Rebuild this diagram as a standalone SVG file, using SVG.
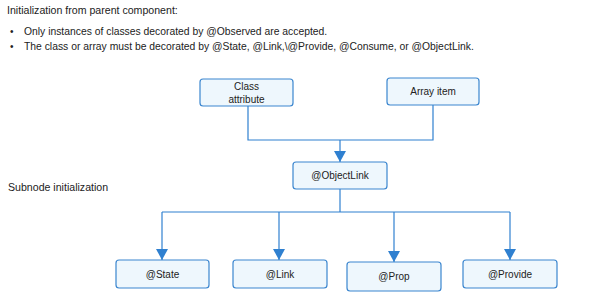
<svg xmlns="http://www.w3.org/2000/svg" width="589" height="296" viewBox="0 0 589 296">
<style>
text{font-family:"Liberation Sans",Arial,sans-serif;font-size:10px;fill:#222}
.h{font-size:10.6px}
.b{font-size:10.35px}
.c{text-anchor:middle}
.box{fill:#eef7fd;stroke:#3b86cf;stroke-width:1.2}
.ln{fill:none;stroke:#2f80d0;stroke-width:1.2}
</style>
<defs>
<marker id="ah" markerWidth="12" markerHeight="12" refX="11" refY="6" orient="auto" markerUnits="userSpaceOnUse">
<path d="M0,0 L11,6 L0,12 Z" fill="#2f80d0"/>
</marker>
</defs>
<rect width="589" height="296" fill="#fff"/>
<text class="h" x="7" y="14">Initialization from parent component:</text>
<text x="10" y="35">•</text>
<text class="b" x="24" y="35">Only instances of classes decorated by @Observed are accepted.</text>
<text x="10" y="50">•</text>
<text class="b" x="24" y="50">The class or array must be decorated by @State, @Link,\@Provide, @Consume, or @ObjectLink.</text>
<text class="h" x="8" y="191">Subnode initialization</text>
<g id="connectors">
<polyline class="ln" points="248,106 248,140 433,140 433,105"/>
<line class="ln" x1="340" y1="140" x2="340" y2="162" marker-end="url(#ah)"/>
<line class="ln" x1="340" y1="189" x2="340" y2="212"/>
<polyline class="ln" points="162,212 510,212"/>
<line class="ln" x1="162" y1="212" x2="162" y2="260" marker-end="url(#ah)"/>
<line class="ln" x1="279" y1="212" x2="279" y2="260" marker-end="url(#ah)"/>
<line class="ln" x1="394" y1="212" x2="394" y2="262" marker-end="url(#ah)"/>
<line class="ln" x1="510" y1="212" x2="510" y2="260" marker-end="url(#ah)"/>
</g>
<g id="class-attribute"><rect class="box" x="200" y="79" width="93" height="27" rx="3"/><text class="c" x="246.5" y="90">Class</text><text class="c" x="246.5" y="103">attribute</text></g>
<g id="array-item"><rect class="box" x="387" y="78" width="92" height="27" rx="3"/><text class="c" x="433" y="95">Array item</text></g>
<g id="objectlink"><rect class="box" x="293" y="162" width="94" height="27" rx="3"/><text class="c" x="340" y="179">@ObjectLink</text></g>
<g id="state"><rect class="box" x="116" y="260" width="93" height="28" rx="3"/><text class="c" x="162.5" y="278">@State</text></g>
<g id="link"><rect class="box" x="233" y="260" width="94" height="28" rx="3"/><text class="c" x="280" y="278">@Link</text></g>
<g id="prop"><rect class="box" x="347" y="262" width="94" height="29" rx="3"/><text class="c" x="394" y="280">@Prop</text></g>
<g id="provide"><rect class="box" x="463" y="260" width="94" height="28" rx="3"/><text class="c" x="510" y="278">@Provide</text></g>
</svg>
